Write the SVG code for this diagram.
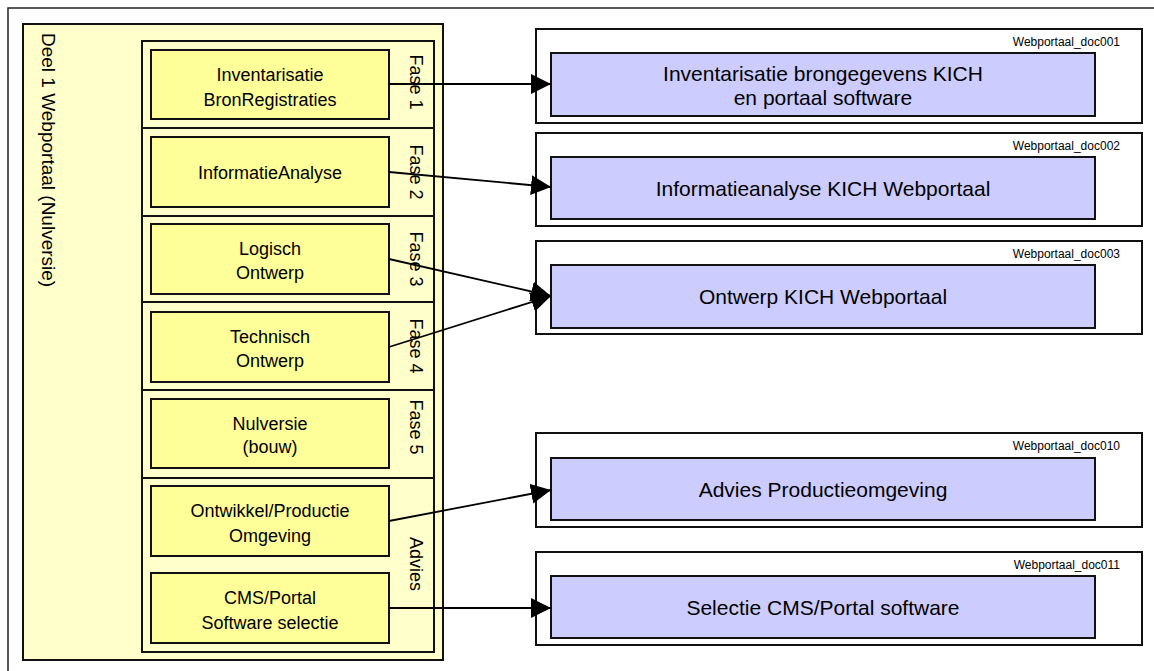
<svg xmlns="http://www.w3.org/2000/svg" width="1154" height="671" viewBox="0 0 1154 671">
<style>
text{font-family:"Liberation Sans",Arial,sans-serif;fill:#000}
.frame{fill:#fff;stroke:#222;stroke-width:1.5}
.cont{fill:#FFFFCC;stroke:#111;stroke-width:2}
.ybox{fill:#FFFF99;stroke:#111;stroke-width:2}
.doc{fill:#fff;stroke:#111;stroke-width:2}
.bbox{fill:#CCCCFF;stroke:#111;stroke-width:2}
.t18{font-size:18px;text-anchor:middle}
.t21{font-size:21px;text-anchor:middle}
.lbl{font-size:12px;text-anchor:end}
.conn{stroke:#000;stroke-width:1.8;fill:none;marker-end:url(#arr)}
</style>
<defs>
<marker id="arr" viewBox="0 0 20 20" refX="20" refY="10" markerWidth="20" markerHeight="20" markerUnits="userSpaceOnUse" orient="auto">
<path d="M0,0 L20,10 L0,20 Z" fill="#000"/>
</marker>
</defs>
<rect class="frame" x="8" y="8" width="1160" height="680"/>
<g id="deel1">
<rect class="cont" x="23" y="24" width="420" height="636"/>
<text x="42" y="33" font-size="19" transform="rotate(90 42 33)">Deel 1 Webportaal (Nulversie)</text>
<rect class="cont" x="142" y="41" width="292" height="611"/>
<line x1="142" y1="128" x2="434" y2="128" stroke="#111" stroke-width="2"/>
<line x1="142" y1="216" x2="434" y2="216" stroke="#111" stroke-width="2"/>
<line x1="142" y1="302" x2="434" y2="302" stroke="#111" stroke-width="2"/>
<line x1="142" y1="390" x2="434" y2="390" stroke="#111" stroke-width="2"/>
<line x1="142" y1="478" x2="434" y2="478" stroke="#111" stroke-width="2"/>
<text class="t18" x="410" y="82" transform="rotate(90 410 82)">Fase 1</text>
<text class="t18" x="410" y="172" transform="rotate(90 410 172)">Fase 2</text>
<text class="t18" x="410" y="259" transform="rotate(90 410 259)">Fase 3</text>
<text class="t18" x="410" y="346" transform="rotate(90 410 346)">Fase 4</text>
<text class="t18" x="410" y="427" transform="rotate(90 410 427)">Fase 5</text>
<text class="t18" x="410" y="564" transform="rotate(90 410 564)">Advies</text>
</g>
<g id="n-inventarisatie">
<rect class="ybox" x="151" y="50" width="238" height="69"/>
<text class="t18" x="270" y="81">Inventarisatie</text>
<text class="t18" x="270" y="106">BronRegistraties</text>
</g>
<g id="n-informatieanalyse">
<rect class="ybox" x="151" y="137" width="238" height="70"/>
<text class="t18" x="270" y="179">InformatieAnalyse</text>
</g>
<g id="n-logisch">
<rect class="ybox" x="151" y="224" width="238" height="70"/>
<text class="t18" x="270" y="255">Logisch</text>
<text class="t18" x="270" y="279">Ontwerp</text>
</g>
<g id="n-technisch">
<rect class="ybox" x="151" y="312" width="238" height="70"/>
<text class="t18" x="270" y="343">Technisch</text>
<text class="t18" x="270" y="367">Ontwerp</text>
</g>
<g id="n-nulversie">
<rect class="ybox" x="151" y="399" width="238" height="69"/>
<text class="t18" x="270" y="430">Nulversie</text>
<text class="t18" x="270" y="453">(bouw)</text>
</g>
<g id="n-ontwikkel">
<rect class="ybox" x="151" y="486" width="238" height="70"/>
<text class="t18" x="270" y="517">Ontwikkel/Productie</text>
<text class="t18" x="270" y="542">Omgeving</text>
</g>
<g id="n-cms">
<rect class="ybox" x="151" y="573" width="238" height="70"/>
<text class="t18" x="270" y="604">CMS/Portal</text>
<text class="t18" x="270" y="629">Software selectie</text>
</g>
<g id="doc001">
<rect class="doc" x="536" y="29" width="606" height="94"/>
<text class="lbl" x="1120" y="46">Webportaal_doc001</text>
<rect class="bbox" x="551" y="53" width="544" height="63"/>
<text class="t21" x="823" y="81">Inventarisatie brongegevens KICH</text>
<text class="t21" x="823" y="105">en portaal software</text>
</g>
<g id="doc002">
<rect class="doc" x="536" y="133" width="606" height="93"/>
<text class="lbl" x="1120" y="150">Webportaal_doc002</text>
<rect class="bbox" x="551" y="157" width="544" height="62"/>
<text class="t21" x="823" y="196">Informatieanalyse KICH Webportaal</text>
</g>
<g id="doc003">
<rect class="doc" x="536" y="241" width="606" height="93"/>
<text class="lbl" x="1120" y="258">Webportaal_doc003</text>
<rect class="bbox" x="551" y="265" width="544" height="63"/>
<text class="t21" x="823" y="304">Ontwerp KICH Webportaal</text>
</g>
<g id="doc010">
<rect class="doc" x="536" y="433" width="606" height="94"/>
<text class="lbl" x="1120" y="450">Webportaal_doc010</text>
<rect class="bbox" x="551" y="458" width="544" height="62"/>
<text class="t21" x="823" y="497">Advies Productieomgeving</text>
</g>
<g id="doc011">
<rect class="doc" x="536" y="552" width="606" height="93"/>
<text class="lbl" x="1120" y="569">Webportaal_doc011</text>
<rect class="bbox" x="551" y="576" width="544" height="62"/>
<text class="t21" x="823" y="615">Selectie CMS/Portal software</text>
</g>
<g id="connectors">
<line class="conn" x1="389" y1="84" x2="551" y2="84"/>
<line class="conn" x1="389" y1="172" x2="551" y2="187"/>
<line class="conn" x1="389" y1="259" x2="551" y2="296"/>
<line class="conn" x1="389" y1="347" x2="551" y2="296"/>
<line class="conn" x1="389" y1="521" x2="551" y2="490"/>
<line class="conn" x1="389" y1="608" x2="551" y2="608"/>
</g>
</svg>
